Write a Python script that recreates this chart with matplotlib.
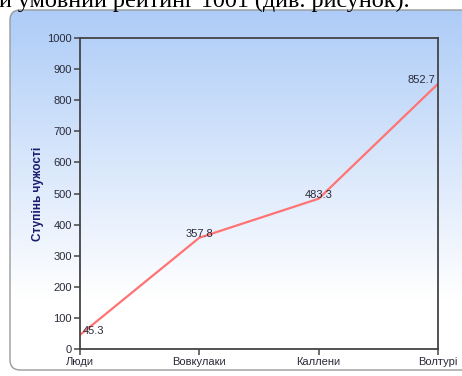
import numpy as np
import matplotlib
matplotlib.use("Agg")
import matplotlib.pyplot as plt
from matplotlib.patches import FancyBboxPatch

categories = ["Люди", "Вовкулаки", "Каллени", "Волтурі"]
values = [45.3, 357.8, 483.3, 852.7]
y_ticks = list(range(0, 1001, 100))
y_label = "Ступінь чужості"
top_text = "и умовний рейтинг 1001 (див. рисунок)."

W, H = 462, 376
fig = plt.figure(figsize=(W / 100, H / 100), dpi=100)
fig.patch.set_facecolor("white")

# background panel with gradient
bg = fig.add_axes([0, 0, 1, 1], zorder=0)
bg.set_xlim(0, W)
bg.set_ylim(H, 0)
bg.axis("off")
top_col = np.array([0.68, 0.80, 0.97])
n = 256
t = np.linspace(0, 1, n)
f = np.clip(t / 0.8, 0, 1)[:, None]
grad = top_col[None, :] * (1 - f) + np.array([1, 1, 1])[None, :] * f
img = np.repeat(grad[:, None, :], 2, axis=1)
im = bg.imshow(img, extent=[10, 480, 370, 10], aspect="auto", interpolation="bilinear")
panel = FancyBboxPatch((10, 10), 470, 360, boxstyle="round,pad=0,rounding_size=10",
                       transform=bg.transData, facecolor="none", edgecolor="#9a9a9a", lw=1.0)
bg.add_patch(panel)
im.set_clip_path(panel)
bg.text(-1, 7.5, top_text, fontfamily="Liberation Serif", fontsize=17.4,
        va="baseline", ha="left", color="black")

# main axes
l, r, t_, b = 80 / W, 438 / W, 38 / H, 349 / H
ax = fig.add_axes([l, 1 - b, r - l, b - t_], zorder=1)
ax.set_facecolor("none")
x = np.arange(len(categories))
ax.plot(x, values, color="#ff7373", lw=1.6)
ax.set_xlim(0, len(categories) - 1)
ax.set_ylim(0, 1000)
ax.set_yticks(y_ticks)
ax.set_xticks(x)
ax.set_xticklabels(categories)
for s in ax.spines.values():
    s.set_color("#444444")
    s.set_linewidth(1.3)
ax.tick_params(axis="both", direction="out", length=4, width=1.1, color="#444444",
               labelsize=8, labelcolor="#2a2a3a", pad=2)
for lab in ax.get_yticklabels() + ax.get_xticklabels():
    lab.set_fontfamily("Liberation Sans")
ax.set_ylabel(y_label, fontfamily="Liberation Sans", fontsize=8.5, fontweight="bold",
              color="#1a1a6e", labelpad=2)

has = ["left", "center", "center", "right"]
for xi, v, ha in zip(x, values, has):
    dx = 2 if ha == "left" else (-2 if ha == "right" else 0)
    ax.annotate(f"{v:.1f}", (xi, v), xytext=(dx, -1), textcoords="offset points",
                ha=ha, va="bottom", fontsize=8, fontfamily="Liberation Sans",
                color="#2a2a3a", annotation_clip=False)

fig.savefig("out.png", dpi=100)
